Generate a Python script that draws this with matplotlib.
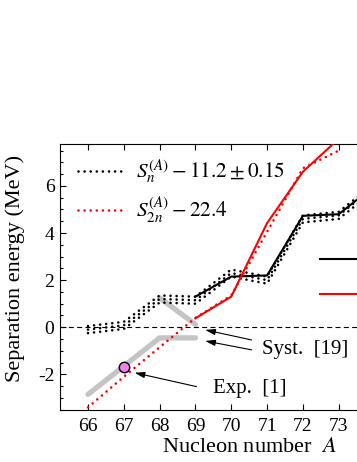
import numpy as np
from matplotlib import pyplot as plt
from matplotlib.lines import Line2D
from matplotlib.ticker import MultipleLocator

plt.rcParams['font.family'] = ['Liberation Serif', 'DejaVu Serif']
plt.rcParams['mathtext.fontset'] = 'stix'
plt.rcParams['axes.unicode_minus'] = False

# black dotted band: S_n - 11.2 (centre), drawn at +-0.15
a_sn = [66, 67, 68, 69, 70, 71, 72, 73, 74]
sn_mid = [-0.1, 0.08, 1.2, 1.15, 2.3, 2.0, 4.6, 4.75, 5.95]
sn_err = 0.15

# red dotted: S_2n - 22.4
a_s2n = [66, 67, 68, 69, 70, 71, 72, 73]
s2n = [-3.4, -2.1, -0.85, 0.4, 1.35, 4.05, 6.75, 7.5]

# solid curves
a_th_n = [69, 70, 71, 72, 73, 74]
th_n = [1.3, 2.15, 2.2, 4.73, 4.8, 6.0]
a_th_2n = [69, 70, 71, 72, 73]
th_2n = [0.38, 1.3, 4.42, 6.6, 8.0]

# systematics (grey)
a_syst_2n = [66, 67, 68, 69]
syst_2n = [-2.85, -1.65, -0.45, -0.45]
a_syst_n = [68, 69]
syst_n = [1.25, 0.12]

# experiment
a_exp = [67]
exp_val = [-1.7]

xticks = [66, 67, 68, 69, 70, 71, 72, 73]
yticks = [-2, 0, 2, 4, 6]

fig = plt.figure(figsize=(3.57, 4.62), dpi=100)
ax = fig.add_axes([60 / 357, (462 - 409.7) / 462, (374.5 - 60) / 357, (409.7 - 144) / 462])

dot = (0, (0.01, 2.3))
ax.axhline(0, color='k', lw=0.8, ls=(0, (4.5, 3)), zorder=1)

ax.plot(a_syst_2n, syst_2n, color='#c4c4c4', lw=3.8, solid_capstyle='round', zorder=2)
ax.plot(a_syst_n, syst_n, color='#c4c4c4', lw=3.8, solid_capstyle='round', zorder=2)

sn_mid = np.array(sn_mid)
for off in (-sn_err, 0, sn_err):
    ax.plot(a_sn, sn_mid + off, color='k', lw=1.9, ls=dot, dash_capstyle='round', zorder=3)
ax.plot(a_s2n, s2n, color='#ff0000', lw=1.9, ls=dot, dash_capstyle='round', zorder=3)

ax.plot(a_th_n, th_n, color='k', lw=1.5, zorder=4)
ax.plot(a_th_2n, th_2n, color='#ff0000', lw=1.5, zorder=4)

ax.plot(a_exp, exp_val, 'o', ms=7.5, mfc='#ee82ee', mec='k', mew=1.0, zorder=6)

ax.set_xlim(65.218, 74.0)
ax.set_ylim(-3.5, 7.78)
ax.set_xticks(xticks)
ax.set_yticks(yticks)
ax.yaxis.set_minor_locator(MultipleLocator(0.5))
ax.tick_params(which='both', direction='in', top=True, right=True, labelsize=14)
ax.tick_params(which='major', length=4.5, width=0.8)
ax.tick_params(which='minor', length=2.5, width=0.8)
ax.tick_params(axis='x', pad=6)
ax.tick_params(axis='y', pad=4)

ax.set_xlabel(r'Nucleon number  $A$', fontsize=16)
ax.xaxis.set_label_coords(0.6025, -0.108)
ax.set_ylabel('Separation energy (MeV)', fontsize=16)
ax.yaxis.set_label_coords(-0.11, 0.53)

arrow = dict(arrowstyle='-|>,head_length=0.6,head_width=0.18', color='k', lw=0.8,
             shrinkA=0, shrinkB=0)
ax.annotate('', xy=(69.27, -0.11), xytext=(70.57, -0.54), arrowprops=arrow)
ax.annotate('', xy=(69.27, -0.58), xytext=(70.57, -0.96), arrowprops=arrow)
ax.text(70.85, -0.93, 'Syst.  [19]', fontsize=15, va='center', ha='left')
ax.annotate('', xy=(67.3, -1.93), xytext=(69.03, -2.52), arrowprops=arrow)
ax.text(69.48, -2.58, 'Exp.  [1]', fontsize=15, va='center', ha='left')

h1 = Line2D([], [], color='k', lw=1.9, ls=dot, dash_capstyle='round')
h2 = Line2D([], [], color='#ff0000', lw=1.9, ls=dot, dash_capstyle='round')
leg = ax.legend([h1, h2], [r'$S_n^{(A)} - 11.2 \pm 0.15$', r'$S_{2n}^{(A)} - 22.4$'],
                loc='upper left', bbox_to_anchor=(78 / 357, 1 - 158 / 462),
                bbox_transform=fig.transFigure, frameon=False, fontsize=15.3,
                handlelength=2.1, handletextpad=0.62, labelspacing=0.4,
                borderpad=0, borderaxespad=0)
ax.add_artist(leg)

h3 = Line2D([], [], color='k', lw=1.5)
h4 = Line2D([], [], color='#ff0000', lw=1.5)
ax.legend([h3, h4], [' ', ' '], loc='upper left', bbox_to_anchor=(320 / 357, 1 - 252 / 462),
          bbox_transform=fig.transFigure, frameon=False, fontsize=14,
          handlelength=2.5, labelspacing=0.9, borderpad=0, borderaxespad=0)

fig.savefig('out.png', dpi=100)
